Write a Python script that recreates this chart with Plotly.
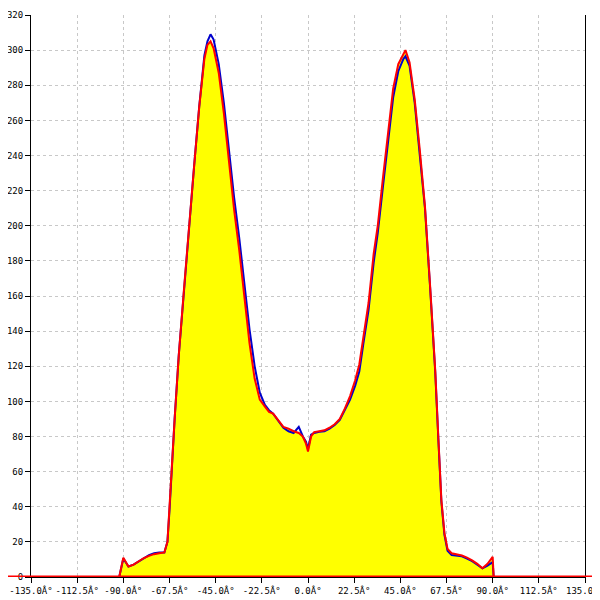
import plotly.graph_objects as go

angles = [-135, -92, -90, -87.5, -85, -82.5, -80, -77.5, -75, -72.5, -70, -68.5, -67.5, -66.5,
          -65, -63, -60.5, -58, -55.5, -53, -50.5, -49, -47.5, -46, -43.5, -41, -38.5, -36,
          -33.5, -31, -28.5, -26, -23.5, -21, -19, -17, -14.5, -12, -9.5, -7, -4.5, -2.5, -1,
          0, 1.5, 3, 5.5, 8, 10.5, 13, 15.5, 18, 20.5, 23, 25, 27, 29.5, 32, 34, 36.5, 39,
          41.5, 44, 46.5, 47.5, 49.5, 52, 54.5, 57, 59.5, 62, 63.5, 65, 66.5, 68, 70, 72.5,
          75, 77.5, 80, 82.5, 85, 87.5, 90, 90.5, 135]

red_vals = [0, 0, 11, 6, 7, 9, 10.8, 12, 13, 13.5, 14, 20, 38, 60,
            90, 126, 163, 200, 234, 268, 295, 303, 305, 301, 287, 264, 236, 209,
            186, 160, 133, 113, 101, 97, 94, 93, 89, 85.5, 84.5, 83, 82, 80, 76,
            71.5, 80, 82.5, 83, 83.5, 85, 87, 90, 96, 103, 112, 121, 137, 156, 184, 200, 227, 253,
            278, 292, 298, 300, 293, 272, 243, 211, 166, 118, 80, 44, 25, 16, 13.5, 13,
            12.2, 11, 9.5, 7.5, 5, 7.5, 11.5, 0, 0]

blue_vals = [0, 0, 10.5, 6, 7, 9, 11, 12.5, 13.5, 14, 14, 20, 38, 60,
             90, 126, 163, 200, 234, 268, 297, 305, 309, 306, 292, 270, 243, 216,
             193, 168, 141, 120, 105, 98, 95, 93, 89, 85, 83, 82, 85.5, 80, 77,
             73, 81, 82, 82.7, 83, 84.5, 86.5, 89.5, 95, 101, 109, 117, 133, 152, 179, 196, 222, 249,
             273, 288, 295, 296.5, 291, 270, 242, 210, 165, 117, 79, 43, 24, 15, 12.5, 12,
             11.8, 10.5, 9, 7, 5, 6.5, 8.5, 0, 0]

tick_vals = [-135, -112.5, -90, -67.5, -45, -22.5, 0, 22.5, 45, 67.5, 90, 112.5, 135]
tick_text = [f"{v:.1f}\u00c2\u00b0" for v in tick_vals]

fig = go.Figure()
fig.add_trace(go.Scatter(x=angles, y=red_vals, mode="lines", fill="tozeroy",
                         fillcolor="#ffff00", line=dict(width=0, color="rgba(0,0,0,0)"),
                         hoverinfo="skip", showlegend=False))
fig.add_trace(go.Scatter(x=angles, y=blue_vals, mode="lines",
                         line=dict(color="#0000cc", width=2), showlegend=False))
fig.add_trace(go.Scatter(x=angles, y=red_vals, mode="lines",
                         line=dict(color="#ff0000", width=2), showlegend=False))

fig.add_shape(type="line", xref="paper", yref="y", x0=-0.06, x1=1.03, y0=0, y1=0,
              line=dict(color="#ff0000", width=3), layer="above")

font = dict(family="DejaVu Sans Mono", size=9, color="#000000")

fig.update_layout(
    width=592, height=592,
    margin=dict(l=23, r=15, t=7, b=23, autoexpand=False),
    paper_bgcolor="white", plot_bgcolor="white",
    font=font,
    xaxis=dict(range=[-135, 135], tickmode="array", tickvals=tick_vals, ticktext=tick_text,
               showgrid=True, gridcolor="#c8c8c8", griddash="3px,3px", gridwidth=1,
               zeroline=False, showline=True, linecolor="black", linewidth=1,
               ticks="outside", ticklen=5, tickcolor="black", tickfont=font,
               automargin=False, ticklabeloverflow="allow"),
    yaxis=dict(range=[0, 320], dtick=20, tick0=0,
               showgrid=True, gridcolor="#c8c8c8", griddash="3px,3px", gridwidth=1,
               zeroline=False, showline=True, mirror=True, linecolor="black", linewidth=1,
               ticks="outside", ticklen=5, tickcolor="black", tickfont=font,
               automargin=False, ticklabeloverflow="allow"),
)

fig.write_html("out.html")
